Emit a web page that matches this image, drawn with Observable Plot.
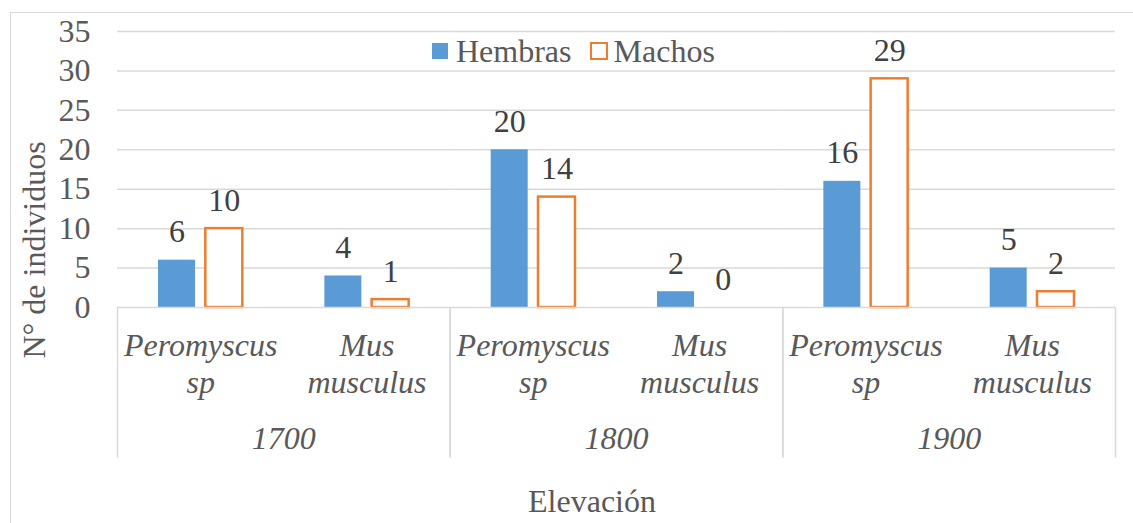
<!DOCTYPE html>
<html>
<head>
<meta charset="utf-8">
<script src="https://cdn.jsdelivr.net/npm/d3@7"></script>
<script src="https://cdn.jsdelivr.net/npm/@observablehq/plot@0.6"></script>
<style>
  html, body { margin: 0; padding: 0; background: #ffffff; overflow: hidden; }
  #wrap { position: relative; width: 1133px; height: 523px; overflow: hidden; background: #ffffff;
          font-family: "Liberation Serif", Tinos, "Times New Roman", Times, "DejaVu Serif", serif; font-size: 32px; color: #595959; }
  #wrap svg { position: absolute; left: 0; top: 0; }
  .border { position: absolute; left: 10px; top: 12px; width: 1300px; height: 700px;
            border: 1.5px solid #d9d9d9; box-sizing: border-box; }
  .legend { position: absolute; left: 432px; top: 35px; height: 32px; display: flex; align-items: center;
            line-height: 32px; white-space: nowrap; }
  .sw { display: inline-block; box-sizing: border-box; }
  .ytitle { position: absolute; left: 34px; top: 250px; line-height: 32px; white-space: nowrap;
            transform: translate(-50%, -50%) rotate(-90deg); }
  .xtitle { position: absolute; left: 492px; width: 200px; top: 485px; line-height: 32px; text-align: center; }
</style>
</head>
<body>
<div id="wrap">
  <div class="border"></div>
</div>
<script>
// ---- data ----
const groups = ["1700", "1800", "1900"];
const species = ["Peromyscus sp", "Mus musculus"];
const hembras = [6, 4, 20, 2, 16, 5];
const machos = [10, 1, 14, 0, 29, 2];
const yTicks = [0, 5, 10, 15, 20, 25, 30, 35];
const seriesNames = ["Hembras", "Machos"];
const yTitle = "N° de individuos";
const xTitle = "Elevación";

// ---- table built from the arrays ----
const rows = [];
groups.forEach((g, gi) => species.forEach((s, si) => {
  const i = gi * species.length + si;
  rows.push({group: g, species: s, hembras: hembras[i], machos: machos[i]});
}));

// ---- layout ----
const W = 1133, H = 523;
const mL = 117, mR = 18, mT = 31, mB = 216;
const plotH = H - mT - mB;
const axisH = 150;                                   // depth of the category label area
const facetW = (W - mL - mR) / groups.length;        // one elevation group
const bandW = facetW / species.length;               // one species
const barW = 37, gap = 10.3;
const outer = bandW / 2 - gap / 2 - barW;            // inset on the outer side of each bar
const inner = bandW / 2 + gap / 2;                   // inset on the inner side
const labelDx = gap / 2 + barW / 2;

const blue = "#5B9BD5", orange = "#ED7D31", grid = "#d9d9d9";
const FONT = '"Liberation Serif", Tinos, "Times New Roman", Times, "DejaVu Serif", serif';

const chart = Plot.plot({
  width: W, height: H,
  marginLeft: mL, marginRight: mR, marginTop: mT, marginBottom: mB,
  style: {fontFamily: FONT, fontSize: "32px",
          color: "#595959", background: "transparent", overflow: "visible"},
  facet: {data: rows, x: "group"},
  fx: {domain: groups, padding: 0, axis: null, round: false, label: null},
  x: {domain: species, padding: 0, axis: null, round: false},
  y: {domain: [0, 35], ticks: yTicks, tickSize: 0, tickPadding: 27, label: null},
  marks: [
    Plot.ruleY(yTicks.filter(v => v > 0), {stroke: grid, strokeWidth: 1.5}),
    Plot.barY(rows, {x: "species", y: "hembras", fill: blue, insetLeft: outer, insetRight: inner}),
    Plot.barY(rows, {x: "species", y: "machos", fill: "#ffffff", stroke: orange, strokeWidth: 2.5,
                     insetLeft: inner, insetRight: outer}),
    Plot.ruleY([0], {stroke: grid, strokeWidth: 1.5}),
    Plot.frame({stroke: grid, strokeWidth: 1.5, insetTop: plotH, insetBottom: -axisH,
                strokeDasharray: `0 ${facetW} ${axisH} ${facetW} ${axisH}`}),
    Plot.text(rows, {x: "species", y: "hembras", text: d => String(d.hembras), dx: -labelDx, dy: -18,
                     lineAnchor: "bottom", fill: "#404040"}),
    Plot.text(rows, {x: "species", y: "machos", text: d => String(d.machos), dx: labelDx, dy: -18,
                     lineAnchor: "bottom", fill: "#404040"}),
    Plot.text(rows, {x: "species", y: 0, text: d => d.species.replace(" ", "\n"), dy: 85,
                     lineAnchor: "bottom", lineHeight: 1.15, fontStyle: "italic", fill: "#595959"}),
    Plot.text(rows, {filter: d => d.species === species[0], y: 0, text: "group", dy: 141,
                     lineAnchor: "bottom", fontStyle: "italic", fill: "#595959"})
  ]
});

const wrap = document.getElementById("wrap");
wrap.appendChild(chart);
chart.querySelectorAll("text").forEach(t => t.style.fontFamily = FONT);

// legend
const legend = document.createElement("div");
legend.className = "legend";
seriesNames.forEach((name, i) => {
  const sw = document.createElement("span");
  sw.className = "sw";
  if (i === 0) {
    sw.style.cssText = `width:16px;height:16px;background:${blue};margin-right:8px;`;
  } else {
    sw.style.cssText = `width:18px;height:18px;border:2.5px solid ${orange};background:#fff;margin-left:18px;margin-right:6px;`;
  }
  const tx = document.createElement("span");
  tx.textContent = name;
  legend.appendChild(sw);
  legend.appendChild(tx);
});
wrap.appendChild(legend);

const yt = document.createElement("div");
yt.className = "ytitle";
yt.textContent = yTitle;
wrap.appendChild(yt);

const xt = document.createElement("div");
xt.className = "xtitle";
xt.textContent = xTitle;
wrap.appendChild(xt);
</script>
</body>
</html>
